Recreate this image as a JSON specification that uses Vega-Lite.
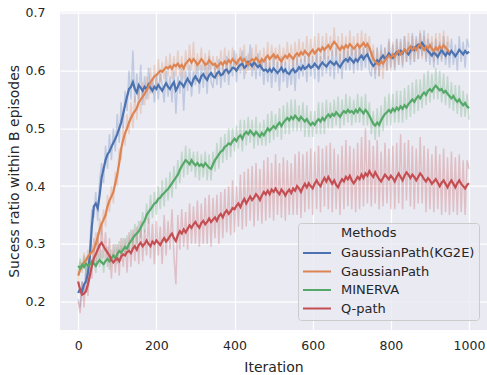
{
"$schema": "https://vega.github.io/schema/vega-lite/v6.json",
"width": 427, "height": 318.3,
"autosize": {"type": "none"},
"padding": {"left": 60, "top": 11.7, "right": 0, "bottom": 45},
"background": "white",
"config": {
 "view": {"fill": "#EAEAF2", "stroke": null},
 "font": "DejaVu Sans",
 "axis": {"grid": true, "gridColor": "white", "gridWidth": 1.2, "domain": false, "ticks": false, "labelColor": "#262626", "titleColor": "#262626", "labelFontSize": 12.5, "titleFontSize": 14, "titleFontWeight": "normal", "labelFont": "DejaVu Sans", "titleFont": "DejaVu Sans"}
},
"data": {"values": [
{"m":"A","x":0,"y":0.215,"r":0.205},{"m":"A","x":5,"y":0.222,"r":0.19},{"m":"A","x":10,"y":0.218,"r":0.235},{"m":"A","x":15,"y":0.23,"r":0.215},{"m":"A","x":20,"y":0.235,"r":0.26},{"m":"A","x":25,"y":0.25,"r":0.235},{"m":"A","x":30,"y":0.28,"r":0.3},{"m":"A","x":35,"y":0.33,"r":0.36},{"m":"A","x":40,"y":0.365,"r":0.345},{"m":"A","x":45,"y":0.37,"r":0.39},
{"m":"A","x":50,"y":0.362,"r":0.34},{"m":"A","x":55,"y":0.385,"r":0.41},{"m":"A","x":60,"y":0.415,"r":0.44},{"m":"A","x":65,"y":0.43,"r":0.405},{"m":"A","x":70,"y":0.445,"r":0.47},{"m":"A","x":75,"y":0.455,"r":0.43},{"m":"A","x":80,"y":0.46,"r":0.49},{"m":"A","x":85,"y":0.468,"r":0.445},{"m":"A","x":90,"y":0.475,"r":0.5},{"m":"A","x":95,"y":0.482,"r":0.46},
{"m":"A","x":100,"y":0.49,"r":0.525},{"m":"A","x":105,"y":0.5,"r":0.475},{"m":"A","x":110,"y":0.51,"r":0.545},{"m":"A","x":115,"y":0.525,"r":0.5},{"m":"A","x":120,"y":0.54,"r":0.565},{"m":"A","x":125,"y":0.555,"r":0.53},{"m":"A","x":130,"y":0.568,"r":0.6},{"m":"A","x":135,"y":0.572,"r":0.55},{"m":"A","x":140,"y":0.58,"r":0.635},{"m":"A","x":145,"y":0.568,"r":0.545},
{"m":"A","x":150,"y":0.562,"r":0.595},{"m":"A","x":155,"y":0.575,"r":0.55},{"m":"A","x":160,"y":0.57,"r":0.61},{"m":"A","x":165,"y":0.565,"r":0.54},{"m":"A","x":170,"y":0.572,"r":0.59},{"m":"A","x":175,"y":0.568,"r":0.55},{"m":"A","x":180,"y":0.576,"r":0.605},{"m":"A","x":185,"y":0.57,"r":0.56},{"m":"A","x":190,"y":0.565,"r":0.585},{"m":"A","x":195,"y":0.572,"r":0.545},
{"m":"A","x":200,"y":0.568,"r":0.59},{"m":"A","x":205,"y":0.575,"r":0.55},{"m":"A","x":210,"y":0.57,"r":0.595},{"m":"A","x":215,"y":0.565,"r":0.575},{"m":"A","x":220,"y":0.572,"r":0.545},{"m":"A","x":225,"y":0.578,"r":0.6},{"m":"A","x":230,"y":0.572,"r":0.555},{"m":"A","x":235,"y":0.568,"r":0.59},{"m":"A","x":240,"y":0.575,"r":0.545},{"m":"A","x":245,"y":0.58,"r":0.6},
{"m":"A","x":250,"y":0.566,"r":0.525},{"m":"A","x":255,"y":0.572,"r":0.59},{"m":"A","x":260,"y":0.58,"r":0.56},{"m":"A","x":265,"y":0.577,"r":0.605},{"m":"A","x":270,"y":0.572,"r":0.53},{"m":"A","x":275,"y":0.58,"r":0.6},{"m":"A","x":280,"y":0.586,"r":0.565},{"m":"A","x":285,"y":0.58,"r":0.61},{"m":"A","x":290,"y":0.575,"r":0.555},{"m":"A","x":295,"y":0.585,"r":0.6},
{"m":"A","x":300,"y":0.59,"r":0.575},{"m":"A","x":305,"y":0.584,"r":0.615},{"m":"A","x":310,"y":0.58,"r":0.56},{"m":"A","x":315,"y":0.59,"r":0.61},{"m":"A","x":320,"y":0.594,"r":0.57},{"m":"A","x":325,"y":0.588,"r":0.615},{"m":"A","x":330,"y":0.584,"r":0.56},{"m":"A","x":335,"y":0.592,"r":0.625},{"m":"A","x":340,"y":0.596,"r":0.58},{"m":"A","x":345,"y":0.59,"r":0.57},
{"m":"A","x":350,"y":0.588,"r":0.61},{"m":"A","x":355,"y":0.595,"r":0.575},{"m":"A","x":360,"y":0.598,"r":0.62},{"m":"A","x":365,"y":0.592,"r":0.57},{"m":"A","x":370,"y":0.594,"r":0.61},{"m":"A","x":375,"y":0.6,"r":0.58},{"m":"A","x":380,"y":0.602,"r":0.625},{"m":"A","x":385,"y":0.596,"r":0.575},{"m":"A","x":390,"y":0.6,"r":0.615},{"m":"A","x":395,"y":0.605,"r":0.59},
{"m":"A","x":400,"y":0.604,"r":0.635},{"m":"A","x":405,"y":0.6,"r":0.58},{"m":"A","x":410,"y":0.606,"r":0.62},{"m":"A","x":415,"y":0.61,"r":0.595},{"m":"A","x":420,"y":0.612,"r":0.635},{"m":"A","x":425,"y":0.605,"r":0.585},{"m":"A","x":430,"y":0.608,"r":0.625},{"m":"A","x":435,"y":0.615,"r":0.6},{"m":"A","x":440,"y":0.612,"r":0.645},{"m":"A","x":445,"y":0.608,"r":0.59},
{"m":"A","x":450,"y":0.615,"r":0.62},{"m":"A","x":455,"y":0.61,"r":0.585},{"m":"A","x":460,"y":0.606,"r":0.63},{"m":"A","x":465,"y":0.61,"r":0.59},{"m":"A","x":470,"y":0.604,"r":0.62},{"m":"A","x":475,"y":0.6,"r":0.575},{"m":"A","x":480,"y":0.602,"r":0.625},{"m":"A","x":485,"y":0.598,"r":0.58},{"m":"A","x":490,"y":0.603,"r":0.615},{"m":"A","x":495,"y":0.598,"r":0.57},
{"m":"A","x":500,"y":0.604,"r":0.625},{"m":"A","x":505,"y":0.6,"r":0.58},{"m":"A","x":510,"y":0.596,"r":0.615},{"m":"A","x":515,"y":0.6,"r":0.565},{"m":"A","x":520,"y":0.605,"r":0.625},{"m":"A","x":525,"y":0.598,"r":0.58},{"m":"A","x":530,"y":0.602,"r":0.615},{"m":"A","x":535,"y":0.596,"r":0.57},{"m":"A","x":540,"y":0.594,"r":0.61},{"m":"A","x":545,"y":0.6,"r":0.575},
{"m":"A","x":550,"y":0.603,"r":0.62},{"m":"A","x":555,"y":0.597,"r":0.565},{"m":"A","x":560,"y":0.6,"r":0.625},{"m":"A","x":565,"y":0.606,"r":0.585},{"m":"A","x":570,"y":0.602,"r":0.62},{"m":"A","x":575,"y":0.608,"r":0.59},{"m":"A","x":580,"y":0.603,"r":0.625},{"m":"A","x":585,"y":0.606,"r":0.58},{"m":"A","x":590,"y":0.61,"r":0.63},{"m":"A","x":595,"y":0.605,"r":0.59},
{"m":"A","x":600,"y":0.607,"r":0.625},{"m":"A","x":605,"y":0.612,"r":0.585},{"m":"A","x":610,"y":0.608,"r":0.635},{"m":"A","x":615,"y":0.604,"r":0.58},{"m":"A","x":620,"y":0.61,"r":0.625},{"m":"A","x":625,"y":0.614,"r":0.59},{"m":"A","x":630,"y":0.61,"r":0.64},{"m":"A","x":635,"y":0.607,"r":0.595},{"m":"A","x":640,"y":0.612,"r":0.625},{"m":"A","x":645,"y":0.616,"r":0.59},
{"m":"A","x":650,"y":0.613,"r":0.635},{"m":"A","x":655,"y":0.61,"r":0.585},{"m":"A","x":660,"y":0.615,"r":0.64},{"m":"A","x":665,"y":0.61,"r":0.595},{"m":"A","x":670,"y":0.606,"r":0.63},{"m":"A","x":675,"y":0.612,"r":0.585},{"m":"A","x":680,"y":0.617,"r":0.64},{"m":"A","x":685,"y":0.62,"r":0.6},{"m":"A","x":690,"y":0.616,"r":0.635},{"m":"A","x":695,"y":0.622,"r":0.6},
{"m":"A","x":700,"y":0.618,"r":0.645},{"m":"A","x":705,"y":0.614,"r":0.595},{"m":"A","x":710,"y":0.62,"r":0.64},{"m":"A","x":715,"y":0.616,"r":0.6},{"m":"A","x":720,"y":0.622,"r":0.645},{"m":"A","x":725,"y":0.626,"r":0.6},{"m":"A","x":730,"y":0.62,"r":0.64},{"m":"A","x":735,"y":0.625,"r":0.605},{"m":"A","x":740,"y":0.628,"r":0.65},{"m":"A","x":745,"y":0.62,"r":0.6},
{"m":"A","x":750,"y":0.613,"r":0.59},{"m":"A","x":755,"y":0.608,"r":0.635},{"m":"A","x":760,"y":0.612,"r":0.585},{"m":"A","x":765,"y":0.618,"r":0.64},{"m":"A","x":770,"y":0.615,"r":0.59},{"m":"A","x":775,"y":0.622,"r":0.645},{"m":"A","x":780,"y":0.626,"r":0.605},{"m":"A","x":785,"y":0.62,"r":0.64},{"m":"A","x":790,"y":0.624,"r":0.6},{"m":"A","x":795,"y":0.63,"r":0.655},
{"m":"A","x":800,"y":0.626,"r":0.605},{"m":"A","x":805,"y":0.622,"r":0.645},{"m":"A","x":810,"y":0.628,"r":0.6},{"m":"A","x":815,"y":0.632,"r":0.655},{"m":"A","x":820,"y":0.628,"r":0.61},{"m":"A","x":825,"y":0.634,"r":0.655},{"m":"A","x":830,"y":0.63,"r":0.605},{"m":"A","x":835,"y":0.636,"r":0.66},{"m":"A","x":840,"y":0.632,"r":0.615},{"m":"A","x":845,"y":0.628,"r":0.65},
{"m":"A","x":850,"y":0.634,"r":0.61},{"m":"A","x":855,"y":0.64,"r":0.665},{"m":"A","x":860,"y":0.636,"r":0.615},{"m":"A","x":865,"y":0.642,"r":0.66},{"m":"A","x":870,"y":0.645,"r":0.62},{"m":"A","x":875,"y":0.64,"r":0.665},{"m":"A","x":880,"y":0.648,"r":0.625},{"m":"A","x":885,"y":0.643,"r":0.67},{"m":"A","x":890,"y":0.638,"r":0.615},{"m":"A","x":895,"y":0.634,"r":0.655},
{"m":"A","x":900,"y":0.63,"r":0.61},{"m":"A","x":905,"y":0.626,"r":0.65},{"m":"A","x":910,"y":0.632,"r":0.605},{"m":"A","x":915,"y":0.628,"r":0.655},{"m":"A","x":920,"y":0.624,"r":0.61},{"m":"A","x":925,"y":0.63,"r":0.65},{"m":"A","x":930,"y":0.636,"r":0.615},{"m":"A","x":935,"y":0.63,"r":0.66},{"m":"A","x":940,"y":0.626,"r":0.61},{"m":"A","x":945,"y":0.632,"r":0.65},
{"m":"A","x":950,"y":0.628,"r":0.605},{"m":"A","x":955,"y":0.634,"r":0.655},{"m":"A","x":960,"y":0.63,"r":0.61},{"m":"A","x":965,"y":0.625,"r":0.645},{"m":"A","x":970,"y":0.63,"r":0.6},{"m":"A","x":975,"y":0.636,"r":0.66},{"m":"A","x":980,"y":0.632,"r":0.615},{"m":"A","x":985,"y":0.628,"r":0.65},{"m":"A","x":990,"y":0.634,"r":0.605},{"m":"A","x":995,"y":0.63,"r":0.655},{"m":"A","x":1000,"y":0.633,"r":0.64},
{"m":"B","x":0,"y":0.245,"r":0.235},{"m":"B","x":5,"y":0.255,"r":0.27},{"m":"B","x":10,"y":0.262,"r":0.25},{"m":"B","x":15,"y":0.268,"r":0.285},{"m":"B","x":20,"y":0.272,"r":0.26},{"m":"B","x":25,"y":0.278,"r":0.29},{"m":"B","x":30,"y":0.282,"r":0.265},{"m":"B","x":35,"y":0.286,"r":0.3},{"m":"B","x":40,"y":0.29,"r":0.275},{"m":"B","x":45,"y":0.3,"r":0.32},
{"m":"B","x":50,"y":0.312,"r":0.295},{"m":"B","x":55,"y":0.325,"r":0.345},{"m":"B","x":60,"y":0.335,"r":0.315},{"m":"B","x":65,"y":0.342,"r":0.36},{"m":"B","x":70,"y":0.35,"r":0.33},{"m":"B","x":75,"y":0.365,"r":0.385},{"m":"B","x":80,"y":0.375,"r":0.355},{"m":"B","x":85,"y":0.382,"r":0.4},{"m":"B","x":90,"y":0.39,"r":0.37},{"m":"B","x":95,"y":0.405,"r":0.425},
{"m":"B","x":100,"y":0.42,"r":0.4},{"m":"B","x":105,"y":0.44,"r":0.465},{"m":"B","x":110,"y":0.465,"r":0.445},{"m":"B","x":115,"y":0.48,"r":0.505},{"m":"B","x":120,"y":0.492,"r":0.47},{"m":"B","x":125,"y":0.5,"r":0.525},{"m":"B","x":130,"y":0.51,"r":0.49},{"m":"B","x":135,"y":0.518,"r":0.545},{"m":"B","x":140,"y":0.525,"r":0.5},{"m":"B","x":145,"y":0.53,"r":0.555},
{"m":"B","x":150,"y":0.535,"r":0.515},{"m":"B","x":155,"y":0.545,"r":0.57},{"m":"B","x":160,"y":0.55,"r":0.525},{"m":"B","x":165,"y":0.555,"r":0.58},{"m":"B","x":170,"y":0.56,"r":0.54},{"m":"B","x":175,"y":0.566,"r":0.59},{"m":"B","x":180,"y":0.572,"r":0.55},{"m":"B","x":185,"y":0.58,"r":0.605},{"m":"B","x":190,"y":0.585,"r":0.56},{"m":"B","x":195,"y":0.59,"r":0.61},
{"m":"B","x":200,"y":0.592,"r":0.57},{"m":"B","x":205,"y":0.596,"r":0.62},{"m":"B","x":210,"y":0.6,"r":0.58},{"m":"B","x":215,"y":0.598,"r":0.615},{"m":"B","x":220,"y":0.602,"r":0.585},{"m":"B","x":225,"y":0.606,"r":0.625},{"m":"B","x":230,"y":0.604,"r":0.59},{"m":"B","x":235,"y":0.608,"r":0.63},{"m":"B","x":240,"y":0.603,"r":0.585},{"m":"B","x":245,"y":0.61,"r":0.625},
{"m":"B","x":250,"y":0.608,"r":0.59},{"m":"B","x":255,"y":0.612,"r":0.635},{"m":"B","x":260,"y":0.606,"r":0.59},{"m":"B","x":265,"y":0.61,"r":0.625},{"m":"B","x":270,"y":0.604,"r":0.585},{"m":"B","x":275,"y":0.612,"r":0.635},{"m":"B","x":280,"y":0.616,"r":0.6},{"m":"B","x":285,"y":0.62,"r":0.645},{"m":"B","x":290,"y":0.614,"r":0.6},{"m":"B","x":295,"y":0.62,"r":0.65},
{"m":"B","x":300,"y":0.616,"r":0.595},{"m":"B","x":305,"y":0.61,"r":0.63},{"m":"B","x":310,"y":0.614,"r":0.6},{"m":"B","x":315,"y":0.62,"r":0.64},{"m":"B","x":320,"y":0.616,"r":0.6},{"m":"B","x":325,"y":0.61,"r":0.63},{"m":"B","x":330,"y":0.612,"r":0.59},{"m":"B","x":335,"y":0.618,"r":0.635},{"m":"B","x":340,"y":0.614,"r":0.6},{"m":"B","x":345,"y":0.61,"r":0.625},
{"m":"B","x":350,"y":0.612,"r":0.595},{"m":"B","x":355,"y":0.606,"r":0.625},{"m":"B","x":360,"y":0.61,"r":0.59},{"m":"B","x":365,"y":0.614,"r":0.635},{"m":"B","x":370,"y":0.61,"r":0.6},{"m":"B","x":375,"y":0.616,"r":0.64},{"m":"B","x":380,"y":0.612,"r":0.595},{"m":"B","x":385,"y":0.618,"r":0.635},{"m":"B","x":390,"y":0.614,"r":0.6},{"m":"B","x":395,"y":0.62,"r":0.64},
{"m":"B","x":400,"y":0.616,"r":0.6},{"m":"B","x":405,"y":0.612,"r":0.63},{"m":"B","x":410,"y":0.618,"r":0.6},{"m":"B","x":415,"y":0.622,"r":0.64},{"m":"B","x":420,"y":0.616,"r":0.6},{"m":"B","x":425,"y":0.62,"r":0.645},{"m":"B","x":430,"y":0.614,"r":0.595},{"m":"B","x":435,"y":0.61,"r":0.63},{"m":"B","x":440,"y":0.616,"r":0.6},{"m":"B","x":445,"y":0.62,"r":0.64},
{"m":"B","x":450,"y":0.617,"r":0.6},{"m":"B","x":455,"y":0.622,"r":0.645},{"m":"B","x":460,"y":0.618,"r":0.605},{"m":"B","x":465,"y":0.614,"r":0.635},{"m":"B","x":470,"y":0.62,"r":0.6},{"m":"B","x":475,"y":0.616,"r":0.64},{"m":"B","x":480,"y":0.622,"r":0.605},{"m":"B","x":485,"y":0.626,"r":0.65},{"m":"B","x":490,"y":0.62,"r":0.6},{"m":"B","x":495,"y":0.624,"r":0.645},
{"m":"B","x":500,"y":0.628,"r":0.61},{"m":"B","x":505,"y":0.622,"r":0.64},{"m":"B","x":510,"y":0.626,"r":0.605},{"m":"B","x":515,"y":0.62,"r":0.645},{"m":"B","x":520,"y":0.616,"r":0.6},{"m":"B","x":525,"y":0.622,"r":0.64},{"m":"B","x":530,"y":0.626,"r":0.61},{"m":"B","x":535,"y":0.622,"r":0.65},{"m":"B","x":540,"y":0.628,"r":0.61},{"m":"B","x":545,"y":0.624,"r":0.645},
{"m":"B","x":550,"y":0.62,"r":0.6},{"m":"B","x":555,"y":0.626,"r":0.65},{"m":"B","x":560,"y":0.63,"r":0.61},{"m":"B","x":565,"y":0.626,"r":0.655},{"m":"B","x":570,"y":0.632,"r":0.615},{"m":"B","x":575,"y":0.628,"r":0.65},{"m":"B","x":580,"y":0.634,"r":0.615},{"m":"B","x":585,"y":0.63,"r":0.66},{"m":"B","x":590,"y":0.626,"r":0.61},{"m":"B","x":595,"y":0.632,"r":0.655},
{"m":"B","x":600,"y":0.636,"r":0.615},{"m":"B","x":605,"y":0.63,"r":0.66},{"m":"B","x":610,"y":0.634,"r":0.615},{"m":"B","x":615,"y":0.638,"r":0.665},{"m":"B","x":620,"y":0.634,"r":0.615},{"m":"B","x":625,"y":0.64,"r":0.66},{"m":"B","x":630,"y":0.636,"r":0.62},{"m":"B","x":635,"y":0.64,"r":0.665},{"m":"B","x":640,"y":0.644,"r":0.62},{"m":"B","x":645,"y":0.638,"r":0.66},
{"m":"B","x":650,"y":0.645,"r":0.625},{"m":"B","x":655,"y":0.65,"r":0.675},{"m":"B","x":660,"y":0.646,"r":0.625},{"m":"B","x":665,"y":0.64,"r":0.66},{"m":"B","x":670,"y":0.636,"r":0.615},{"m":"B","x":675,"y":0.642,"r":0.665},{"m":"B","x":680,"y":0.638,"r":0.62},{"m":"B","x":685,"y":0.644,"r":0.66},{"m":"B","x":690,"y":0.64,"r":0.62},{"m":"B","x":695,"y":0.646,"r":0.67},
{"m":"B","x":700,"y":0.642,"r":0.625},{"m":"B","x":705,"y":0.638,"r":0.66},{"m":"B","x":710,"y":0.642,"r":0.62},{"m":"B","x":715,"y":0.646,"r":0.665},{"m":"B","x":720,"y":0.64,"r":0.62},{"m":"B","x":725,"y":0.644,"r":0.67},{"m":"B","x":730,"y":0.648,"r":0.625},{"m":"B","x":735,"y":0.642,"r":0.665},{"m":"B","x":740,"y":0.646,"r":0.625},{"m":"B","x":745,"y":0.64,"r":0.66},
{"m":"B","x":750,"y":0.63,"r":0.61},{"m":"B","x":755,"y":0.62,"r":0.645},{"m":"B","x":760,"y":0.616,"r":0.595},{"m":"B","x":765,"y":0.612,"r":0.64},{"m":"B","x":770,"y":0.61,"r":0.59},{"m":"B","x":775,"y":0.616,"r":0.635},{"m":"B","x":780,"y":0.612,"r":0.585},{"m":"B","x":785,"y":0.618,"r":0.64},{"m":"B","x":790,"y":0.622,"r":0.6},{"m":"B","x":795,"y":0.626,"r":0.65},
{"m":"B","x":800,"y":0.622,"r":0.6},{"m":"B","x":805,"y":0.628,"r":0.65},{"m":"B","x":810,"y":0.624,"r":0.605},{"m":"B","x":815,"y":0.63,"r":0.655},{"m":"B","x":820,"y":0.634,"r":0.61},{"m":"B","x":825,"y":0.628,"r":0.65},{"m":"B","x":830,"y":0.632,"r":0.61},{"m":"B","x":835,"y":0.636,"r":0.66},{"m":"B","x":840,"y":0.632,"r":0.615},{"m":"B","x":845,"y":0.638,"r":0.665},
{"m":"B","x":850,"y":0.642,"r":0.62},{"m":"B","x":855,"y":0.636,"r":0.66},{"m":"B","x":860,"y":0.64,"r":0.615},{"m":"B","x":865,"y":0.636,"r":0.655},{"m":"B","x":870,"y":0.642,"r":0.62},{"m":"B","x":875,"y":0.646,"r":0.67},{"m":"B","x":880,"y":0.64,"r":0.62},{"m":"B","x":885,"y":0.636,"r":0.66},{"m":"B","x":890,"y":0.642,"r":0.62},{"m":"B","x":895,"y":0.638,"r":0.665},
{"m":"B","x":900,"y":0.644,"r":0.625},{"m":"B","x":905,"y":0.638,"r":0.66},{"m":"B","x":910,"y":0.634,"r":0.615},{"m":"B","x":915,"y":0.64,"r":0.665},{"m":"B","x":920,"y":0.636,"r":0.62},{"m":"B","x":925,"y":0.642,"r":0.665},{"m":"B","x":930,"y":0.638,"r":0.62},{"m":"B","x":935,"y":0.644,"r":0.67},{"m":"B","x":940,"y":0.64,"r":0.62},{"m":"B","x":945,"y":0.636,"r":0.66},{"m":"B","x":950,"y":0.632,"r":0.64},
{"m":"C","x":0,"y":0.262,"r":0.25},{"m":"C","x":5,"y":0.258,"r":0.275},{"m":"C","x":10,"y":0.264,"r":0.255},{"m":"C","x":15,"y":0.26,"r":0.28},{"m":"C","x":20,"y":0.266,"r":0.25},{"m":"C","x":25,"y":0.262,"r":0.275},{"m":"C","x":30,"y":0.265,"r":0.285},{"m":"C","x":35,"y":0.27,"r":0.26},{"m":"C","x":40,"y":0.266,"r":0.28},{"m":"C","x":45,"y":0.262,"r":0.25},
{"m":"C","x":50,"y":0.268,"r":0.285},{"m":"C","x":55,"y":0.272,"r":0.26},{"m":"C","x":60,"y":0.268,"r":0.29},{"m":"C","x":65,"y":0.265,"r":0.25},{"m":"C","x":70,"y":0.27,"r":0.28},{"m":"C","x":75,"y":0.274,"r":0.295},{"m":"C","x":80,"y":0.27,"r":0.255},{"m":"C","x":85,"y":0.275,"r":0.29},{"m":"C","x":90,"y":0.28,"r":0.265},{"m":"C","x":95,"y":0.276,"r":0.3},
{"m":"C","x":100,"y":0.282,"r":0.265},{"m":"C","x":105,"y":0.288,"r":0.305},{"m":"C","x":110,"y":0.285,"r":0.27},{"m":"C","x":115,"y":0.29,"r":0.31},{"m":"C","x":120,"y":0.295,"r":0.28},{"m":"C","x":125,"y":0.292,"r":0.315},{"m":"C","x":130,"y":0.3,"r":0.285},{"m":"C","x":135,"y":0.305,"r":0.325},{"m":"C","x":140,"y":0.31,"r":0.29},{"m":"C","x":145,"y":0.315,"r":0.335},
{"m":"C","x":150,"y":0.318,"r":0.3},{"m":"C","x":155,"y":0.322,"r":0.34},{"m":"C","x":160,"y":0.328,"r":0.31},{"m":"C","x":165,"y":0.335,"r":0.355},{"m":"C","x":170,"y":0.34,"r":0.32},{"m":"C","x":175,"y":0.35,"r":0.37},{"m":"C","x":180,"y":0.355,"r":0.335},{"m":"C","x":185,"y":0.36,"r":0.385},{"m":"C","x":190,"y":0.365,"r":0.345},{"m":"C","x":195,"y":0.37,"r":0.39},
{"m":"C","x":200,"y":0.372,"r":0.35},{"m":"C","x":205,"y":0.378,"r":0.4},{"m":"C","x":210,"y":0.38,"r":0.36},{"m":"C","x":215,"y":0.385,"r":0.41},{"m":"C","x":220,"y":0.388,"r":0.365},{"m":"C","x":225,"y":0.392,"r":0.415},{"m":"C","x":230,"y":0.395,"r":0.375},{"m":"C","x":235,"y":0.4,"r":0.425},{"m":"C","x":240,"y":0.405,"r":0.38},{"m":"C","x":245,"y":0.41,"r":0.435},
{"m":"C","x":250,"y":0.415,"r":0.395},{"m":"C","x":255,"y":0.42,"r":0.445},{"m":"C","x":260,"y":0.428,"r":0.405},{"m":"C","x":265,"y":0.435,"r":0.46},{"m":"C","x":270,"y":0.44,"r":0.415},{"m":"C","x":275,"y":0.445,"r":0.47},{"m":"C","x":280,"y":0.442,"r":0.42},{"m":"C","x":285,"y":0.438,"r":0.465},{"m":"C","x":290,"y":0.445,"r":0.425},{"m":"C","x":295,"y":0.44,"r":0.46},
{"m":"C","x":300,"y":0.436,"r":0.415},{"m":"C","x":305,"y":0.44,"r":0.46},{"m":"C","x":310,"y":0.435,"r":0.41},{"m":"C","x":315,"y":0.438,"r":0.455},{"m":"C","x":320,"y":0.434,"r":0.415},{"m":"C","x":325,"y":0.44,"r":0.46},{"m":"C","x":330,"y":0.436,"r":0.41},{"m":"C","x":335,"y":0.432,"r":0.455},{"m":"C","x":340,"y":0.43,"r":0.41},{"m":"C","x":345,"y":0.438,"r":0.46},
{"m":"C","x":350,"y":0.445,"r":0.425},{"m":"C","x":355,"y":0.45,"r":0.475},{"m":"C","x":360,"y":0.455,"r":0.43},{"m":"C","x":365,"y":0.46,"r":0.485},{"m":"C","x":370,"y":0.462,"r":0.44},{"m":"C","x":375,"y":0.468,"r":0.49},{"m":"C","x":380,"y":0.47,"r":0.445},{"m":"C","x":385,"y":0.474,"r":0.5},{"m":"C","x":390,"y":0.472,"r":0.45},{"m":"C","x":395,"y":0.478,"r":0.5},
{"m":"C","x":400,"y":0.482,"r":0.46},{"m":"C","x":405,"y":0.478,"r":0.505},{"m":"C","x":410,"y":0.485,"r":0.465},{"m":"C","x":415,"y":0.488,"r":0.515},{"m":"C","x":420,"y":0.482,"r":0.46},{"m":"C","x":425,"y":0.49,"r":0.515},{"m":"C","x":430,"y":0.494,"r":0.47},{"m":"C","x":435,"y":0.49,"r":0.52},{"m":"C","x":440,"y":0.496,"r":0.475},{"m":"C","x":445,"y":0.492,"r":0.515},
{"m":"C","x":450,"y":0.488,"r":0.465},{"m":"C","x":455,"y":0.494,"r":0.52},{"m":"C","x":460,"y":0.49,"r":0.47},{"m":"C","x":465,"y":0.486,"r":0.51},{"m":"C","x":470,"y":0.492,"r":0.47},{"m":"C","x":475,"y":0.488,"r":0.515},{"m":"C","x":480,"y":0.494,"r":0.47},{"m":"C","x":485,"y":0.5,"r":0.525},{"m":"C","x":490,"y":0.496,"r":0.475},{"m":"C","x":495,"y":0.5,"r":0.53},
{"m":"C","x":500,"y":0.504,"r":0.48},{"m":"C","x":505,"y":0.5,"r":0.525},{"m":"C","x":510,"y":0.506,"r":0.485},{"m":"C","x":515,"y":0.51,"r":0.535},{"m":"C","x":520,"y":0.504,"r":0.48},{"m":"C","x":525,"y":0.51,"r":0.54},{"m":"C","x":530,"y":0.514,"r":0.49},{"m":"C","x":535,"y":0.518,"r":0.545},{"m":"C","x":540,"y":0.514,"r":0.49},{"m":"C","x":545,"y":0.52,"r":0.55},
{"m":"C","x":550,"y":0.516,"r":0.495},{"m":"C","x":555,"y":0.522,"r":0.55},{"m":"C","x":560,"y":0.518,"r":0.495},{"m":"C","x":565,"y":0.514,"r":0.54},{"m":"C","x":570,"y":0.52,"r":0.495},{"m":"C","x":575,"y":0.516,"r":0.545},{"m":"C","x":580,"y":0.512,"r":0.485},{"m":"C","x":585,"y":0.516,"r":0.54},{"m":"C","x":590,"y":0.51,"r":0.485},{"m":"C","x":595,"y":0.506,"r":0.53},
{"m":"C","x":600,"y":0.51,"r":0.485},{"m":"C","x":605,"y":0.506,"r":0.53},{"m":"C","x":610,"y":0.512,"r":0.49},{"m":"C","x":615,"y":0.516,"r":0.545},{"m":"C","x":620,"y":0.512,"r":0.49},{"m":"C","x":625,"y":0.518,"r":0.545},{"m":"C","x":630,"y":0.514,"r":0.49},{"m":"C","x":635,"y":0.52,"r":0.55},{"m":"C","x":640,"y":0.524,"r":0.5},{"m":"C","x":645,"y":0.52,"r":0.545},
{"m":"C","x":650,"y":0.525,"r":0.5},{"m":"C","x":655,"y":0.522,"r":0.55},{"m":"C","x":660,"y":0.528,"r":0.505},{"m":"C","x":665,"y":0.524,"r":0.555},{"m":"C","x":670,"y":0.52,"r":0.5},{"m":"C","x":675,"y":0.526,"r":0.55},{"m":"C","x":680,"y":0.53,"r":0.505},{"m":"C","x":685,"y":0.527,"r":0.56},{"m":"C","x":690,"y":0.532,"r":0.51},{"m":"C","x":695,"y":0.528,"r":0.555},
{"m":"C","x":700,"y":0.53,"r":0.505},{"m":"C","x":705,"y":0.526,"r":0.55},{"m":"C","x":710,"y":0.532,"r":0.51},{"m":"C","x":715,"y":0.528,"r":0.56},{"m":"C","x":720,"y":0.534,"r":0.51},{"m":"C","x":725,"y":0.53,"r":0.555},{"m":"C","x":730,"y":0.526,"r":0.505},{"m":"C","x":735,"y":0.532,"r":0.56},{"m":"C","x":740,"y":0.528,"r":0.505},{"m":"C","x":745,"y":0.522,"r":0.545},
{"m":"C","x":750,"y":0.515,"r":0.49},{"m":"C","x":755,"y":0.508,"r":0.53},{"m":"C","x":760,"y":0.505,"r":0.48},{"m":"C","x":765,"y":0.51,"r":0.535},{"m":"C","x":770,"y":0.506,"r":0.485},{"m":"C","x":775,"y":0.514,"r":0.54},{"m":"C","x":780,"y":0.52,"r":0.495},{"m":"C","x":785,"y":0.525,"r":0.555},{"m":"C","x":790,"y":0.528,"r":0.505},{"m":"C","x":795,"y":0.532,"r":0.56},
{"m":"C","x":800,"y":0.528,"r":0.505},{"m":"C","x":805,"y":0.534,"r":0.56},{"m":"C","x":810,"y":0.53,"r":0.51},{"m":"C","x":815,"y":0.536,"r":0.565},{"m":"C","x":820,"y":0.532,"r":0.51},{"m":"C","x":825,"y":0.538,"r":0.565},{"m":"C","x":830,"y":0.534,"r":0.51},{"m":"C","x":835,"y":0.54,"r":0.57},{"m":"C","x":840,"y":0.536,"r":0.515},{"m":"C","x":845,"y":0.542,"r":0.575},
{"m":"C","x":850,"y":0.546,"r":0.52},{"m":"C","x":855,"y":0.55,"r":0.58},{"m":"C","x":860,"y":0.546,"r":0.525},{"m":"C","x":865,"y":0.552,"r":0.585},{"m":"C","x":870,"y":0.556,"r":0.53},{"m":"C","x":875,"y":0.552,"r":0.585},{"m":"C","x":880,"y":0.558,"r":0.535},{"m":"C","x":885,"y":0.562,"r":0.595},{"m":"C","x":890,"y":0.558,"r":0.54},{"m":"C","x":895,"y":0.565,"r":0.6},
{"m":"C","x":900,"y":0.568,"r":0.545},{"m":"C","x":905,"y":0.564,"r":0.595},{"m":"C","x":910,"y":0.57,"r":0.55},{"m":"C","x":915,"y":0.574,"r":0.605},{"m":"C","x":920,"y":0.57,"r":0.55},{"m":"C","x":925,"y":0.566,"r":0.6},{"m":"C","x":930,"y":0.568,"r":0.545},{"m":"C","x":935,"y":0.562,"r":0.595},{"m":"C","x":940,"y":0.565,"r":0.54},{"m":"C","x":945,"y":0.56,"r":0.59},
{"m":"C","x":950,"y":0.556,"r":0.535},{"m":"C","x":955,"y":0.552,"r":0.58},{"m":"C","x":960,"y":0.556,"r":0.53},{"m":"C","x":965,"y":0.55,"r":0.575},{"m":"C","x":970,"y":0.546,"r":0.525},{"m":"C","x":975,"y":0.55,"r":0.575},{"m":"C","x":980,"y":0.544,"r":0.52},{"m":"C","x":985,"y":0.54,"r":0.565},{"m":"C","x":990,"y":0.544,"r":0.52},{"m":"C","x":995,"y":0.538,"r":0.56},{"m":"C","x":1000,"y":0.535,"r":0.515},
{"m":"D","x":0,"y":0.235,"r":0.2},{"m":"D","x":5,"y":0.22,"r":0.18},{"m":"D","x":10,"y":0.212,"r":0.235},{"m":"D","x":15,"y":0.214,"r":0.19},{"m":"D","x":20,"y":0.218,"r":0.25},{"m":"D","x":25,"y":0.23,"r":0.21},{"m":"D","x":30,"y":0.245,"r":0.27},{"m":"D","x":35,"y":0.262,"r":0.24},{"m":"D","x":40,"y":0.275,"r":0.31},{"m":"D","x":45,"y":0.282,"r":0.26},
{"m":"D","x":50,"y":0.29,"r":0.32},{"m":"D","x":55,"y":0.298,"r":0.27},{"m":"D","x":60,"y":0.302,"r":0.335},{"m":"D","x":65,"y":0.296,"r":0.275},{"m":"D","x":70,"y":0.29,"r":0.32},{"m":"D","x":75,"y":0.285,"r":0.26},{"m":"D","x":80,"y":0.28,"r":0.31},{"m":"D","x":85,"y":0.272,"r":0.24},{"m":"D","x":90,"y":0.268,"r":0.3},{"m":"D","x":95,"y":0.272,"r":0.25},
{"m":"D","x":100,"y":0.275,"r":0.3},{"m":"D","x":105,"y":0.27,"r":0.245},{"m":"D","x":110,"y":0.278,"r":0.31},{"m":"D","x":115,"y":0.282,"r":0.26},{"m":"D","x":120,"y":0.28,"r":0.31},{"m":"D","x":125,"y":0.286,"r":0.25},{"m":"D","x":130,"y":0.288,"r":0.32},{"m":"D","x":135,"y":0.284,"r":0.26},{"m":"D","x":140,"y":0.292,"r":0.325},{"m":"D","x":145,"y":0.296,"r":0.27},
{"m":"D","x":150,"y":0.29,"r":0.33},{"m":"D","x":155,"y":0.298,"r":0.265},{"m":"D","x":160,"y":0.302,"r":0.34},{"m":"D","x":165,"y":0.296,"r":0.27},{"m":"D","x":170,"y":0.3,"r":0.325},{"m":"D","x":175,"y":0.306,"r":0.28},{"m":"D","x":180,"y":0.3,"r":0.345},{"m":"D","x":185,"y":0.296,"r":0.275},{"m":"D","x":190,"y":0.304,"r":0.335},{"m":"D","x":195,"y":0.3,"r":0.265},
{"m":"D","x":200,"y":0.306,"r":0.34},{"m":"D","x":205,"y":0.302,"r":0.28},{"m":"D","x":210,"y":0.298,"r":0.33},{"m":"D","x":215,"y":0.305,"r":0.265},{"m":"D","x":220,"y":0.31,"r":0.35},{"m":"D","x":225,"y":0.304,"r":0.28},{"m":"D","x":230,"y":0.308,"r":0.34},{"m":"D","x":235,"y":0.314,"r":0.29},{"m":"D","x":240,"y":0.318,"r":0.36},{"m":"D","x":245,"y":0.31,"r":0.28},
{"m":"D","x":250,"y":0.305,"r":0.23},{"m":"D","x":255,"y":0.315,"r":0.35},{"m":"D","x":260,"y":0.322,"r":0.29},{"m":"D","x":265,"y":0.318,"r":0.36},{"m":"D","x":270,"y":0.325,"r":0.295},{"m":"D","x":275,"y":0.32,"r":0.355},{"m":"D","x":280,"y":0.326,"r":0.29},{"m":"D","x":285,"y":0.332,"r":0.37},{"m":"D","x":290,"y":0.328,"r":0.3},{"m":"D","x":295,"y":0.334,"r":0.365},
{"m":"D","x":300,"y":0.338,"r":0.3},{"m":"D","x":305,"y":0.332,"r":0.375},{"m":"D","x":310,"y":0.328,"r":0.295},{"m":"D","x":315,"y":0.336,"r":0.37},{"m":"D","x":320,"y":0.34,"r":0.3},{"m":"D","x":325,"y":0.334,"r":0.38},{"m":"D","x":330,"y":0.338,"r":0.3},{"m":"D","x":335,"y":0.344,"r":0.385},{"m":"D","x":340,"y":0.338,"r":0.295},{"m":"D","x":345,"y":0.342,"r":0.38},
{"m":"D","x":350,"y":0.346,"r":0.31},{"m":"D","x":355,"y":0.34,"r":0.385},{"m":"D","x":360,"y":0.348,"r":0.3},{"m":"D","x":365,"y":0.352,"r":0.39},{"m":"D","x":370,"y":0.346,"r":0.31},{"m":"D","x":375,"y":0.354,"r":0.395},{"m":"D","x":380,"y":0.358,"r":0.32},{"m":"D","x":385,"y":0.352,"r":0.4},{"m":"D","x":390,"y":0.356,"r":0.315},{"m":"D","x":395,"y":0.362,"r":0.41},
{"m":"D","x":400,"y":0.36,"r":0.32},{"m":"D","x":405,"y":0.366,"r":0.4},{"m":"D","x":410,"y":0.37,"r":0.33},{"m":"D","x":415,"y":0.364,"r":0.42},{"m":"D","x":420,"y":0.372,"r":0.325},{"m":"D","x":425,"y":0.378,"r":0.425},{"m":"D","x":430,"y":0.37,"r":0.33},{"m":"D","x":435,"y":0.376,"r":0.43},{"m":"D","x":440,"y":0.382,"r":0.34},{"m":"D","x":445,"y":0.376,"r":0.435},
{"m":"D","x":450,"y":0.38,"r":0.33},{"m":"D","x":455,"y":0.386,"r":0.44},{"m":"D","x":460,"y":0.382,"r":0.34},{"m":"D","x":465,"y":0.376,"r":0.43},{"m":"D","x":470,"y":0.384,"r":0.335},{"m":"D","x":475,"y":0.39,"r":0.445},{"m":"D","x":480,"y":0.386,"r":0.34},{"m":"D","x":485,"y":0.392,"r":0.45},{"m":"D","x":490,"y":0.386,"r":0.345},{"m":"D","x":495,"y":0.394,"r":0.44},
{"m":"D","x":500,"y":0.39,"r":0.34},{"m":"D","x":505,"y":0.396,"r":0.455},{"m":"D","x":510,"y":0.39,"r":0.35},{"m":"D","x":515,"y":0.386,"r":0.44},{"m":"D","x":520,"y":0.394,"r":0.345},{"m":"D","x":525,"y":0.39,"r":0.45},{"m":"D","x":530,"y":0.384,"r":0.34},{"m":"D","x":535,"y":0.39,"r":0.445},{"m":"D","x":540,"y":0.394,"r":0.35},{"m":"D","x":545,"y":0.388,"r":0.44},
{"m":"D","x":550,"y":0.396,"r":0.35},{"m":"D","x":555,"y":0.392,"r":0.455},{"m":"D","x":560,"y":0.4,"r":0.35},{"m":"D","x":565,"y":0.396,"r":0.46},{"m":"D","x":570,"y":0.39,"r":0.345},{"m":"D","x":575,"y":0.398,"r":0.455},{"m":"D","x":580,"y":0.404,"r":0.355},{"m":"D","x":585,"y":0.398,"r":0.46},{"m":"D","x":590,"y":0.405,"r":0.36},{"m":"D","x":595,"y":0.4,"r":0.465},
{"m":"D","x":600,"y":0.396,"r":0.35},{"m":"D","x":605,"y":0.404,"r":0.46},{"m":"D","x":610,"y":0.41,"r":0.36},{"m":"D","x":615,"y":0.404,"r":0.47},{"m":"D","x":620,"y":0.4,"r":0.355},{"m":"D","x":625,"y":0.408,"r":0.465},{"m":"D","x":630,"y":0.414,"r":0.365},{"m":"D","x":635,"y":0.408,"r":0.47},{"m":"D","x":640,"y":0.416,"r":0.36},{"m":"D","x":645,"y":0.41,"r":0.475},
{"m":"D","x":650,"y":0.404,"r":0.355},{"m":"D","x":655,"y":0.41,"r":0.465},{"m":"D","x":660,"y":0.402,"r":0.36},{"m":"D","x":665,"y":0.398,"r":0.455},{"m":"D","x":670,"y":0.406,"r":0.35},{"m":"D","x":675,"y":0.412,"r":0.47},{"m":"D","x":680,"y":0.408,"r":0.36},{"m":"D","x":685,"y":0.416,"r":0.48},{"m":"D","x":690,"y":0.412,"r":0.365},{"m":"D","x":695,"y":0.418,"r":0.47},
{"m":"D","x":700,"y":0.41,"r":0.36},{"m":"D","x":705,"y":0.405,"r":0.465},{"m":"D","x":710,"y":0.41,"r":0.355},{"m":"D","x":715,"y":0.416,"r":0.475},{"m":"D","x":720,"y":0.412,"r":0.36},{"m":"D","x":725,"y":0.42,"r":0.485},{"m":"D","x":730,"y":0.414,"r":0.365},{"m":"D","x":735,"y":0.422,"r":0.5},{"m":"D","x":740,"y":0.418,"r":0.37},{"m":"D","x":745,"y":0.426,"r":0.48},
{"m":"D","x":750,"y":0.42,"r":0.365},{"m":"D","x":755,"y":0.416,"r":0.47},{"m":"D","x":760,"y":0.424,"r":0.37},{"m":"D","x":765,"y":0.418,"r":0.48},{"m":"D","x":770,"y":0.412,"r":0.36},{"m":"D","x":775,"y":0.408,"r":0.46},{"m":"D","x":780,"y":0.414,"r":0.365},{"m":"D","x":785,"y":0.42,"r":0.475},{"m":"D","x":790,"y":0.416,"r":0.37},{"m":"D","x":795,"y":0.412,"r":0.465},
{"m":"D","x":800,"y":0.418,"r":0.36},{"m":"D","x":805,"y":0.414,"r":0.47},{"m":"D","x":810,"y":0.408,"r":0.36},{"m":"D","x":815,"y":0.416,"r":0.475},{"m":"D","x":820,"y":0.422,"r":0.37},{"m":"D","x":825,"y":0.416,"r":0.49},{"m":"D","x":830,"y":0.41,"r":0.36},{"m":"D","x":835,"y":0.418,"r":0.475},{"m":"D","x":840,"y":0.424,"r":0.375},{"m":"D","x":845,"y":0.42,"r":0.48},
{"m":"D","x":850,"y":0.414,"r":0.365},{"m":"D","x":855,"y":0.42,"r":0.47},{"m":"D","x":860,"y":0.416,"r":0.36},{"m":"D","x":865,"y":0.41,"r":0.465},{"m":"D","x":870,"y":0.416,"r":0.37},{"m":"D","x":875,"y":0.422,"r":0.485},{"m":"D","x":880,"y":0.418,"r":0.37},{"m":"D","x":885,"y":0.412,"r":0.47},{"m":"D","x":890,"y":0.408,"r":0.355},{"m":"D","x":895,"y":0.414,"r":0.465},
{"m":"D","x":900,"y":0.41,"r":0.36},{"m":"D","x":905,"y":0.404,"r":0.455},{"m":"D","x":910,"y":0.408,"r":0.355},{"m":"D","x":915,"y":0.412,"r":0.47},{"m":"D","x":920,"y":0.406,"r":0.36},{"m":"D","x":925,"y":0.4,"r":0.455},{"m":"D","x":930,"y":0.406,"r":0.35},{"m":"D","x":935,"y":0.41,"r":0.465},{"m":"D","x":940,"y":0.404,"r":0.355},{"m":"D","x":945,"y":0.398,"r":0.45},
{"m":"D","x":950,"y":0.405,"r":0.35},{"m":"D","x":955,"y":0.41,"r":0.46},{"m":"D","x":960,"y":0.404,"r":0.355},{"m":"D","x":965,"y":0.398,"r":0.45},{"m":"D","x":970,"y":0.405,"r":0.35},{"m":"D","x":975,"y":0.41,"r":0.455},{"m":"D","x":980,"y":0.404,"r":0.355},{"m":"D","x":985,"y":0.4,"r":0.445},{"m":"D","x":990,"y":0.396,"r":0.35},{"m":"D","x":995,"y":0.402,"r":0.445},{"m":"D","x":1000,"y":0.405,"r":0.43}
]},
"encoding": {
 "x": {"field": "x", "type": "quantitative", "scale": {"domain": [-46.5, 1046], "nice": false, "zero": false}, "axis": {"values": [0, 200, 400, 600, 800, 1000], "format": "d", "title": "Iteration", "labelPadding": 9, "titlePadding": 9}},
 "color": {"field": "m", "type": "nominal", "scale": {"domain": ["A", "B", "C", "D"], "range": ["#4C72B0", "#DD8452", "#55A868", "#C44E52"]},
  "legend": {"title": "Methods", "orient": "none", "legendX": 238, "legendY": 211.3, "direction": "vertical",
   "labelExpr": "{'A':'GaussianPath(KG2E)','B':'GaussianPath','C':'MINERVA','D':'Q-path'}[datum.label]",
   "symbolType": "M-1,0H3", "symbolSize": 196, "symbolStrokeWidth": 2, "symbolOpacity": 1,
   "labelFontSize": 13, "titleFontSize": 13, "titleFontWeight": "normal", "labelColor": "#262626", "titleColor": "#262626", "labelFont": "DejaVu Sans", "titleFont": "DejaVu Sans",
   "labelOffset": 23, "rowPadding": 3.5, "padding": 4,
   "fillColor": "rgba(234,234,242,0.8)", "strokeColor": "#cccccc", "cornerRadius": 3,
   "titleAnchor": "start", "titlePadding": 5,
   "encode": {"title": {"update": {"dx": {"value": 39}}}}}}
},
"layer": [
 {"mark": {"type": "line", "strokeWidth": 1.5, "opacity": 0.27},
  "encoding": {"y": {"field": "r", "type": "quantitative", "scale": {"domain": [0.151, 0.702], "nice": false, "zero": false}, "axis": {"values": [0.2, 0.3, 0.4, 0.5, 0.6, 0.7], "format": ".1f", "title": "Sucess ratio within B episodes", "labelPadding": 15, "titlePadding": 3.5}}}},
 {"mark": {"type": "line", "strokeWidth": 2.2},
  "encoding": {"y": {"field": "y", "type": "quantitative", "scale": {"domain": [0.151, 0.702], "nice": false, "zero": false}, "axis": {"values": [0.2, 0.3, 0.4, 0.5, 0.6, 0.7], "format": ".1f", "title": "Sucess ratio within B episodes", "labelPadding": 15, "titlePadding": 3.5}}}}
]
}
